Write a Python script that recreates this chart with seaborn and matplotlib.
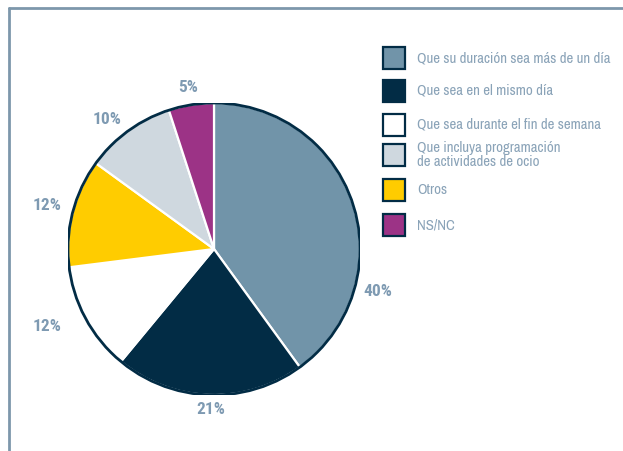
import matplotlib
matplotlib.use("Agg")
import matplotlib.pyplot as plt
from matplotlib.patches import Rectangle, Circle
from matplotlib.lines import Line2D
import numpy as np
import seaborn as sns

# Survey answers (legend order) and their shares (%)
categories = [
    "Que su duración sea más de un día",
    "Que sea en el mismo día",
    "Que sea durante el fin de semana",
    "Que incluya programación\nde actividades de ocio",
    "Otros",
    "NS/NC",
]
shares = [40, 21, 12, 10, 12, 5]
category_colors = ["#7194a9", "#022c45", "#ffffff", "#cfd8df", "#ffcc00", "#9c3386"]
# order in which the slices run clockwise from the top
pie_order = [0, 1, 2, 4, 3, 5]

sns.set_theme(style="white")
plt.rcParams["font.family"] = ["Archivo Narrow", "DejaVu Sans"]
bold_family = ["Roboto Condensed", "Saira SemiCondensed", "DejaVu Sans"]

W, H = 623, 451
fig = plt.figure(figsize=(W / 100, H / 100), dpi=100)
fig.patch.set_facecolor("white")

navy = "#022c45"
label_color = "#7e9ab2"
frame_color = "#7d97ab"

# Pie axes: centre (214, 249) px, radius 146 px
cx, cy, r = 214, 249, 146
ax = fig.add_axes([(cx - r) / W, (H - cy - r) / H, 2 * r / W, 2 * r / H])
ax.axis("off")

pie_values = [shares[i] for i in pie_order]
pie_colors = [category_colors[i] for i in pie_order]
wedges, _, pct_texts = ax.pie(
    pie_values,
    colors=pie_colors,
    startangle=90,
    counterclock=False,
    radius=1,
    autopct="%d%%",
    pctdistance=1.17,
    wedgeprops=dict(edgecolor="white", linewidth=1.6),
    textprops=dict(color=label_color, fontsize=12.5, fontweight="bold", family=bold_family),
)
ax.set_xlim(-1, 1)
ax.set_ylim(-1, 1)
ax.add_patch(Circle((0, 0), 1, fill=False, edgecolor=navy, linewidth=2, zorder=5))

# percentage label placement (angle in degrees, distance in radii)
label_layout = [(-14.7, 1.16), (-91, 1.10), (-155, 1.26), (165.3, 1.18), (129.7, 1.15), (99.2, 1.12)]
for t, (ang, dist) in zip(pct_texts, label_layout):
    a = np.deg2rad(ang)
    t.set_position((dist * np.cos(a), dist * np.sin(a)))
    t.set_ha("center")
    t.set_va("center")

# Legend drawn as swatches with text, in pixel layout
legend_rows = [58, 91, 125, 155, 190, 225]
for name, col, y in zip(categories, category_colors, legend_rows):
    fig.patches.append(Rectangle((383 / W, (H - y - 11) / H), 22 / W, 22 / H,
                                 transform=fig.transFigure, facecolor=col,
                                 edgecolor=navy, linewidth=1.6))
    fig.text(417 / W, (H - y) / H, name, color="#8aa3b8", fontsize=10.7,
             ha="left", va="center", linespacing=0.95)

# Frame lines along top and left
fig.lines.append(Line2D([9 / W, 1], [(H - 8) / H] * 2, transform=fig.transFigure,
                        color=frame_color, linewidth=2))
fig.lines.append(Line2D([9 / W] * 2, [0, (H - 8) / H], transform=fig.transFigure,
                        color=frame_color, linewidth=2))

fig.savefig("out.png", dpi=100)
